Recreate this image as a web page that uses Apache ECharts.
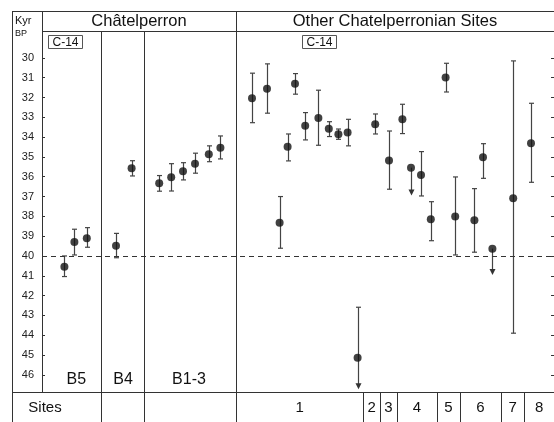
<!DOCTYPE html>
<html><head><meta charset="utf-8">
<script src="https://cdn.jsdelivr.net/npm/echarts@6/dist/echarts.min.js"></script>
<style>html,body{margin:0;padding:0;background:#fff}#c{width:554px;height:422px}</style>
</head><body><div id="c"></div>
<script>
// ---- data ----
const yTicks = [30,31,32,33,34,35,36,37,38,39,40,41,42,43,44,45,46];
const posX = [5.6,8.1,11.2, 18.5,22.4, 29.3,32.3,35.25,38.25,41.7,44.6,
  52.5,56.25,59.4,61.4,63.25,65.8,69.1,71.7,74.1,76.4,78.9,
  83.3, 86.75,90.1, 92.25,94.75,97.2, 100.9,103.3, 108.1,110.25,112.6, 117.8, 122.25];
const age = [40.54,39.29,39.11, 39.48,35.57, 36.33,36.03,35.72,35.35,34.86,34.53,
  32.04,31.55,38.32,34.48,31.31,33.43,33.03,33.57,33.86,33.77,45.14,
  33.35, 35.18,33.10, 35.54,35.91,38.15, 30.99,38.01, 38.20,35.02,39.63, 37.09, 34.31];
const errYoung = [40.0,38.65,38.57, 38.86,35.19, 35.94,35.34,35.29,34.81,34.44,33.94,
  30.77,30.30,37.00,33.84,30.79,32.76,31.63,33.22,33.59,33.10,42.59,
  32.83, 33.69,32.34, 35.54,34.73,37.26, 30.27,36.01, 36.60,34.33,39.63, 30.15, 32.29];
const errOld = [41.04,39.95,39.56, 40.09,35.96, 36.73,36.72,36.16,35.82,35.24,35.10,
  33.27,32.79,39.61,35.20,31.83,34.14,34.41,33.97,34.11,34.44,46.73,
  33.84, 36.63,33.82, 36.95,36.97,39.23, 31.72,39.95, 39.81,36.08,40.96, 43.90, 36.28];
const arrowDown = [21, 25, 32];        // open-ended (older than) dates
const refLine = 40;
const panelDividers = [14.75, 25.5];
const panelSplit = 48.5;
const siteBounds = [48.5, 80.3, 84.5, 88.7, 98.7, 104.5, 114.75, 120.6, 128];
const siteLabels = ['1','2','3','4','5','6','7','8'];
const layerLabels = ['B5','B4','B1-3'];
const layerLabelX = [8.6, 20.25, 36.75];
const panelTitles = ['Châtelperron', 'Other Chatelperronian Sites'];

// ---- chart ----
const FONT = "'Liberation Sans', Arial, sans-serif";
const Y_MIN = 28.64, Y_MAX = 46.87;
const W = 554, H = 422;
const chart = echarts.init(document.getElementById('c'), null, {renderer: 'canvas'});
const data = posX.map((x, i) => [x, age[i], errYoung[i], errOld[i], arrowDown.includes(i) ? 1 : 0]);
const LC = '#333';

chart.setOption({
  animation: false,
  grid: {left: 42, right: 0, top: 31, bottom: 30},
  xAxis: {type: 'value', min: 0, max: 128, show: false},
  yAxis: [{
    type: 'value', inverse: true, min: Y_MIN, max: Y_MAX, position: 'left',
    axisLine: {show: true, lineStyle: {color: LC, width: 1}},
    axisTick: {show: true, inside: true, length: 3, customValues: yTicks, lineStyle: {color: LC}},
    axisLabel: {customValues: yTicks, margin: 8, fontSize: 11, color: '#222', fontFamily: FONT},
    splitLine: {show: false}
  }, {
    type: 'value', inverse: true, min: Y_MIN, max: Y_MAX, position: 'right',
    axisLine: {show: false},
    axisTick: {show: true, inside: true, length: 3, customValues: yTicks, lineStyle: {color: LC}},
    axisLabel: {show: false}, splitLine: {show: false}
  }],
  series: [{
    type: 'custom',
    data: data,
    encode: {x: 0, y: [1, 2, 3]},
    renderItem: function (params, api) {
      const xv = api.value(0);
      const p = api.coord([xv, api.value(1)]);
      const t = api.coord([xv, api.value(2)]);
      const b = api.coord([xv, api.value(3)]);
      const arrow = api.value(4) === 1;
      const x = Math.round(p[0]) + 0.5;
      const st = {stroke: '#444', lineWidth: 1.2};
      const ch = [];
      ch.push({type: 'line', shape: {x1: x, y1: t[1], x2: x, y2: arrow ? b[1] - 5 : b[1]}, style: st});
      if (api.value(2) !== api.value(1)) {
        ch.push({type: 'line', shape: {x1: x - 2.5, y1: t[1], x2: x + 2.5, y2: t[1]}, style: st});
      }
      if (arrow) {
        ch.push({type: 'polygon', shape: {points: [[x - 3, b[1] - 6], [x + 3, b[1] - 6], [x, b[1]]]}, style: {fill: '#333'}});
      } else {
        ch.push({type: 'line', shape: {x1: x - 2.5, y1: b[1], x2: x + 2.5, y2: b[1]}, style: st});
      }
      return {type: 'group', children: ch};
    },
    z: 2
  }, {
    type: 'scatter',
    data: data.map(d => [d[0], d[1]]),
    symbol: 'circle', symbolSize: 8,
    itemStyle: {color: '#111'},
    z: 3,
    markLine: {
      silent: true, symbol: 'none', label: {show: false},
      lineStyle: {color: '#333', type: [5, 4], width: 1},
      data: [{yAxis: refLine}]
    }
  }]
});

// ---- table frame & labels ----
const px = v => chart.convertToPixel({xAxisIndex: 0}, v);
const r = v => Math.round(v) + 0.5;
const line = (x1, y1, x2, y2) => ({type: 'line', shape: {x1, y1, x2, y2}, style: {stroke: LC, lineWidth: 1}, z: 10});
const text = (x, y, s, size, align) => ({type: 'text', x, y, z: 11,
  style: {text: s, fontSize: size, fontFamily: FONT, fill: '#111', align: align || 'center', verticalAlign: 'middle'}});
const G = [];
const yTop = 11.5, yHead = 31.5, yBot = 392.5;
G.push(line(12, yTop, W, yTop));
G.push(line(12.5, yTop, 12.5, H));
G.push(line(42.5, yTop, 42.5, yBot));
G.push(line(42, yHead, W, yHead));
G.push(line(12, yBot, W, yBot));
panelDividers.forEach(v => G.push(line(r(px(v)), yHead, r(px(v)), H)));
G.push(line(r(px(panelSplit)), yTop, r(px(panelSplit)), H));
siteBounds.slice(1, -1).forEach(v => G.push(line(r(px(v)), yBot, r(px(v)), H)));
G.push(text(15, 21, 'Kyr', 11, 'left'));
G.push(text(15, 34, 'BP', 9, 'left'));
G.push(text(px(panelSplit / 2), 21, panelTitles[0], 16.5));
G.push(text(px((panelSplit + 128) / 2), 21, panelTitles[1], 16.5));
// C-14 boxes
[[1.5], [65]].forEach(([v]) => {
  const x = r(px(v));
  G.push({type: 'rect', shape: {x: x, y: 35.5, width: 34, height: 13}, style: {stroke: '#555', fill: '#fff', lineWidth: 1}, z: 10});
  G.push(text(x + 17, 42.5, 'C-14', 12));
});
layerLabels.forEach((s, i) => G.push(text(px(layerLabelX[i]), 380, s, 16)));
G.push(text(45, 408, 'Sites', 15));
siteLabels.forEach((s, i) => G.push(text(px((siteBounds[i] + siteBounds[i + 1]) / 2), 408, s, 15)));
chart.setOption({graphic: G});
</script></body></html>
